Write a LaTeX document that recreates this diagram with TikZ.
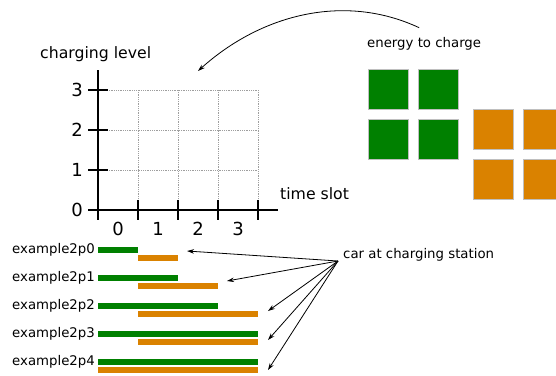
\documentclass[tikz,border=0pt]{standalone}
\usepackage{fontspec}
\setmainfont{DejaVu Sans}
\usetikzlibrary{arrows.meta}
\definecolor{grn}{RGB}{0,128,0}
\definecolor{org}{RGB}{218,130,0}
\tikzset{
  axisline/.style={line width=1.6pt},
  gridline/.style={black!38, densely dotted, line width=0.8pt},
  small/.style={font=\fontsize{13.3}{15}\selectfont, inner sep=0pt},
  big/.style={font=\fontsize{15.7}{18}\selectfont, inner sep=0pt},
  digit/.style={font=\fontsize{18}{20}\selectfont, inner sep=0pt},
  sq/.style={draw=black!25, line width=0.6pt, minimum size=40pt, inner sep=0pt},
  arr/.style={-{Stealth[length=7pt,width=4.5pt]}, line width=0.8pt},
}
\begin{document}
\begin{tikzpicture}[x=1pt,y=-1pt]
\useasboundingbox (0,0) rectangle (556,375);
% grid
\foreach \x in {138,178,218,258} \draw[gridline] (\x,90) -- (\x,210);
\foreach \y in {90,130,170} \draw[gridline] (98,\y) -- (258,\y);
% axes
\draw[axisline] (98,70) -- (98,220);
\draw[axisline] (88,210) -- (278,210);
\foreach \y in {90,130,170} \draw[axisline] (88,\y) -- (108,\y);
\foreach \x in {138,178,218,258} \draw[axisline] (\x,200) -- (\x,220);
% axis labels
\node[digit] (y0) at (77,210) {0};
\node[digit] (y1) at (77,170) {1};
\node[digit] (y2) at (77,130) {2};
\node[digit] (y3) at (77,90) {3};
\node[digit] (x0) at (118,229) {0};
\node[digit] (x1) at (158,229) {1};
\node[digit] (x2) at (198,229) {2};
\node[digit] (x3) at (238,229) {3};
\node[big, anchor=base west] (ylab) at (40,58) {charging level};
\node[big, anchor=base west] (xlab) at (280,199) {time slot};
% energy squares
\node[small, anchor=base west] (energy) at (367,47) {energy to charge};
\node[sq, fill=grn] (g1) at (388.5,89) {};
\node[sq, fill=grn] (g2) at (438.5,89) {};
\node[sq, fill=grn] (g3) at (388.5,139) {};
\node[sq, fill=grn] (g4) at (438.5,139) {};
\node[sq, fill=org] (o1) at (493,129) {};
\node[sq, fill=org] (o2) at (543,129) {};
\node[sq, fill=org] (o3) at (493,179) {};
\node[sq, fill=org] (o4) at (543,179) {};
\coordinate (gtarget) at (198,71);
\draw[arr] ([xshift=-5pt,yshift=9pt]energy.north) to[out=155, in=42, looseness=0.95] (gtarget);
% example rows
\foreach \i/\g/\os/\oe in {0/138/138/178, 1/178/138/218, 2/218/138/258, 3/258/138/258, 4/258/98/258}{
  \pgfmathsetmacro{\c}{250.3+28*\i}
  \node[small, anchor=base east] (ex\i) at (95,\c+3) {example2p\i};
  \fill[grn] (98,\c-3) rectangle (\g,\c+3);
  \fill[org] (\os,\c+4.7) rectangle (\oe,\c+10.7);
}
\node[small, anchor=base west] (car) at (343,258) {car at charging station};
\coordinate (carpt) at ([xshift=-5pt,yshift=-3pt]car.base west);
\coordinate (t0) at (187,251);
\coordinate (t1) at (227,281);
\coordinate (t2) at (268,311);
\coordinate (t3) at (268,340);
\coordinate (t4) at (268,370);
\foreach \t in {t0,t1,t2,t3,t4} \draw[arr] (carpt) -- (\t);
\end{tikzpicture}
\end{document}
